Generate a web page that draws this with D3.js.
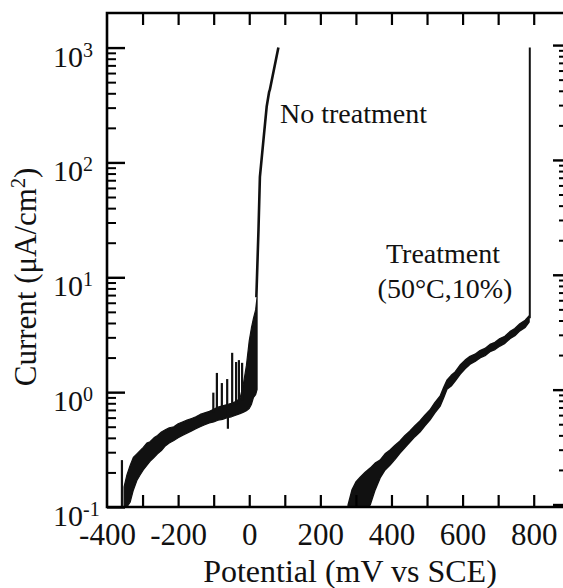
<!DOCTYPE html>
<html>
<head>
<meta charset="utf-8">
<script src="https://cdn.jsdelivr.net/npm/d3@7"></script>
<style>
  html, body { margin: 0; padding: 0; background: #fff; }
  svg { display: block; }
  text { font-family: "Liberation Serif", "Times New Roman", serif; fill: #111; }
</style>
</head>
<body>
<svg id="chart" width="563" height="588"></svg>
<script>
// Potentiodynamic polarization: potential (mV vs SCE) against current density (µA/cm²)

// axis ticks
const xTickValues = [-300, -200, -100, 0, 100, 200, 300, 400, 500, 600, 700, 800];
const xLabelValues = [-400, -200, 0, 200, 400, 600, 800];
const yDecadeExponents = [-1, 0, 1, 2, 3];

// "No treatment" scan: noisy band given as lower / upper current at each potential
const noTreatPotential = [-352, -344, -335, -326, -316, -307, -298, -288, -279, -268, -258, -247, -236, -225, -212, -200, -188, -175, -162, -150, -138, -125, -112, -100, -88, -75, -62, -50, -38, -26, -16, -8, 0, 6, 12, 18, 22];
const noTreatLow  = [0.10, 0.10, 0.11, 0.14, 0.17, 0.19, 0.21, 0.23, 0.25, 0.27, 0.29, 0.31, 0.34, 0.36, 0.38, 0.40, 0.42, 0.44, 0.46, 0.48, 0.50, 0.52, 0.54, 0.55, 0.57, 0.58, 0.60, 0.61, 0.63, 0.65, 0.67, 0.69, 0.72, 0.78, 0.90, 0.95, 1.05];
const noTreatHigh = [0.15, 0.19, 0.23, 0.27, 0.29, 0.31, 0.33, 0.36, 0.37, 0.40, 0.42, 0.45, 0.47, 0.49, 0.50, 0.53, 0.55, 0.57, 0.59, 0.61, 0.64, 0.66, 0.68, 0.71, 0.74, 0.76, 0.78, 0.80, 0.83, 0.88, 1.2, 1.7, 2.8, 3.6, 4.4, 5.2, 6.7];

// current spikes on the "No treatment" band
const spikePotential = [-358, -101, -91, -77, -62, -60, -48, -37, -29, -20];
const spikeFrom      = [0.10, 0.66, 0.70, 0.72, 0.74, 0.70, 0.76, 0.78, 0.80, 0.85];
const spikeTo        = [0.256, 0.99, 1.47, 1.20, 1.30, 0.48, 2.2, 1.83, 1.9, 1.8];

// pitting breakdown of the untreated sample
const risePotential = [20, 26, 30, 40, 49, 56, 58, 82];
const riseCurrent   = [6.7, 25.8, 75, 157, 305, 412, 430, 1000];

// "Treatment (50°C,10%)" scan: band lower / upper current at each potential
const treatPotential = [278, 289, 300, 312, 326, 340, 354, 368, 382, 396, 410, 424, 438, 452, 466, 480, 494, 508, 522, 537, 547, 556, 568, 579, 593, 607, 621, 635, 649, 663, 677, 691, 705, 719, 733, 747, 761, 776, 787];
const treatLow  = [0.10, 0.10, 0.10, 0.10, 0.10, 0.104, 0.141, 0.179, 0.21, 0.232, 0.26, 0.295, 0.33, 0.368, 0.41, 0.449, 0.51, 0.572, 0.66, 0.756, 0.90, 1.06, 1.13, 1.25, 1.43, 1.60, 1.75, 1.85, 1.99, 2.08, 2.25, 2.35, 2.52, 2.66, 2.92, 3.10, 3.42, 3.66, 4.08];
const treatHigh = [0.104, 0.141, 0.165, 0.182, 0.201, 0.218, 0.241, 0.256, 0.29, 0.313, 0.345, 0.375, 0.42, 0.458, 0.51, 0.56, 0.63, 0.698, 0.81, 0.925, 1.10, 1.27, 1.40, 1.50, 1.72, 1.90, 2.05, 2.14, 2.30, 2.40, 2.60, 2.71, 2.93, 3.06, 3.36, 3.58, 3.94, 4.22, 4.60];

// breakdown of the treated sample
const treatBreakPotential = 789;
const treatBreakCurrent = [4.4, 1000];

const labelNoTreat = "No treatment";
const labelTreat = ["Treatment", "(50°C,10%)"];

const svg = d3.select("#chart");

const plotLeft = 107, plotRight = 565, plotTop = 13, plotBottom = 507;
const x = d3.scaleLinear().domain([-400, 888]).range([plotLeft, plotRight]);
const y = d3.scaleLog().domain([0.1, 2000]).range([plotBottom, plotTop]);

// minor log ticks (2..9 per decade)
const minorTicks = [];
[-1, 0, 1, 2].forEach(e => { for (let m = 2; m <= 9; m++) minorTicks.push(m * Math.pow(10, e)); });
const majorTicks = yDecadeExponents.map(e => Math.pow(10, e));

const ink = "#111";

// ---- curves ----
const bandNo = d3.area()
  .x((d, i) => x(noTreatPotential[i]))
  .y0((d, i) => y(noTreatLow[i]))
  .y1((d, i) => y(noTreatHigh[i]))
  .curve(d3.curveLinear);
svg.append("path")
  .attr("d", bandNo(noTreatPotential))
  .attr("fill", ink).attr("stroke", ink).attr("stroke-width", 1.2).attr("stroke-linejoin", "round");

svg.append("g").selectAll("line").data(spikePotential).join("line")
  .attr("x1", d => x(d)).attr("x2", d => x(d))
  .attr("y1", (d, i) => y(spikeFrom[i])).attr("y2", (d, i) => y(spikeTo[i]))
  .attr("stroke", ink).attr("stroke-width", 2.2);

const riseLine = d3.line()
  .x((d, i) => x(risePotential[i]))
  .y((d, i) => y(riseCurrent[i]));
svg.append("path")
  .attr("d", riseLine(risePotential))
  .attr("fill", "none").attr("stroke", ink).attr("stroke-width", 2.6).attr("stroke-linejoin", "round");

const bandTreat = d3.area()
  .x((d, i) => x(treatPotential[i]))
  .y0((d, i) => y(treatLow[i]))
  .y1((d, i) => y(treatHigh[i]));
svg.append("path")
  .attr("d", bandTreat(treatPotential))
  .attr("fill", ink).attr("stroke", ink).attr("stroke-width", 1.4).attr("stroke-linejoin", "round");

svg.append("line")
  .attr("x1", x(treatBreakPotential)).attr("x2", x(treatBreakPotential))
  .attr("y1", y(treatBreakCurrent[0])).attr("y2", y(treatBreakCurrent[1]))
  .attr("stroke", ink).attr("stroke-width", 2);

// ---- frame and ticks ----
svg.append("path")
  .attr("d", `M${plotRight},${plotTop}H${plotLeft}V${plotBottom}H${plotRight}`)
  .attr("fill", "none").attr("stroke", "#000").attr("stroke-width", 2.6);

function styleAxis(g, w) {
  g.select(".domain").remove();
  g.selectAll(".tick line").attr("stroke", "#000").attr("stroke-width", w);
}

svg.append("g").attr("transform", `translate(0,${plotBottom})`)
  .call(d3.axisBottom(x).tickValues(xTickValues).tickSize(-12).tickFormat(""))
  .call(g => styleAxis(g, 2.2));
svg.append("g").attr("transform", `translate(0,${plotTop})`)
  .call(d3.axisTop(x).tickValues(xTickValues).tickSize(-12).tickFormat(""))
  .call(g => styleAxis(g, 2.2));

svg.append("g").attr("transform", `translate(${plotLeft},0)`)
  .call(d3.axisLeft(y).tickValues(majorTicks).tickSize(-18).tickFormat(""))
  .call(g => styleAxis(g, 2.4));
svg.append("g").attr("transform", `translate(${plotLeft},0)`)
  .call(d3.axisLeft(y).tickValues(minorTicks).tickSize(-9).tickFormat(""))
  .call(g => styleAxis(g, 2));

svg.append("g").attr("transform", `translate(${plotRight},-2.5)`)
  .call(d3.axisRight(y).tickValues(majorTicks).tickSize(-12).tickFormat(""))
  .call(g => styleAxis(g, 2.4));
svg.append("g").attr("transform", `translate(${plotRight},-2.5)`)
  .call(d3.axisRight(y).tickValues(minorTicks).tickSize(-6).tickFormat(""))
  .call(g => styleAxis(g, 2));

// ---- tick labels ----
svg.append("g").attr("transform", `translate(0,${plotBottom})`)
  .call(d3.axisBottom(x).tickValues(xLabelValues).tickSize(0).tickPadding(0).tickFormat(d => String(d)))
  .call(g => g.select(".domain").remove())
  .call(g => g.selectAll("text")
    .attr("y", 38).attr("dy", null)
    .attr("font-size", 31).attr("fill", "#111")
    .attr("font-family", "'Liberation Serif', 'Times New Roman', serif"));

const yLab = svg.append("g").selectAll("text").data(yDecadeExponents).join("text")
  .attr("x", 53).attr("y", d => y(Math.pow(10, d)) + 19)
  .attr("font-size", 30);
yLab.append("tspan").text("10");
yLab.append("tspan").attr("font-size", 20).attr("dy", -10).text(d => String(d));

// ---- axis titles ----
svg.append("text")
  .attr("x", 350).attr("y", 582).attr("text-anchor", "middle")
  .attr("font-size", 32).text("Potential (mV vs SCE)");

const yTitle = svg.append("text")
  .attr("transform", "translate(36,277) rotate(-90)")
  .attr("text-anchor", "middle").attr("font-size", 31);
yTitle.append("tspan").text("Current (μA/cm");
yTitle.append("tspan").attr("font-size", 20).attr("dy", -11).text("2");
yTitle.append("tspan").attr("dy", 11).text(")");

// ---- curve annotations ----
svg.append("text").attr("x", 280).attr("y", 123).attr("font-size", 28).text(labelNoTreat);
svg.append("text").attr("x", 443).attr("y", 263).attr("text-anchor", "middle").attr("font-size", 28).text(labelTreat[0]);
svg.append("text").attr("x", 445).attr("y", 298).attr("text-anchor", "middle").attr("font-size", 28).text(labelTreat[1]);
</script>
</body>
</html>
